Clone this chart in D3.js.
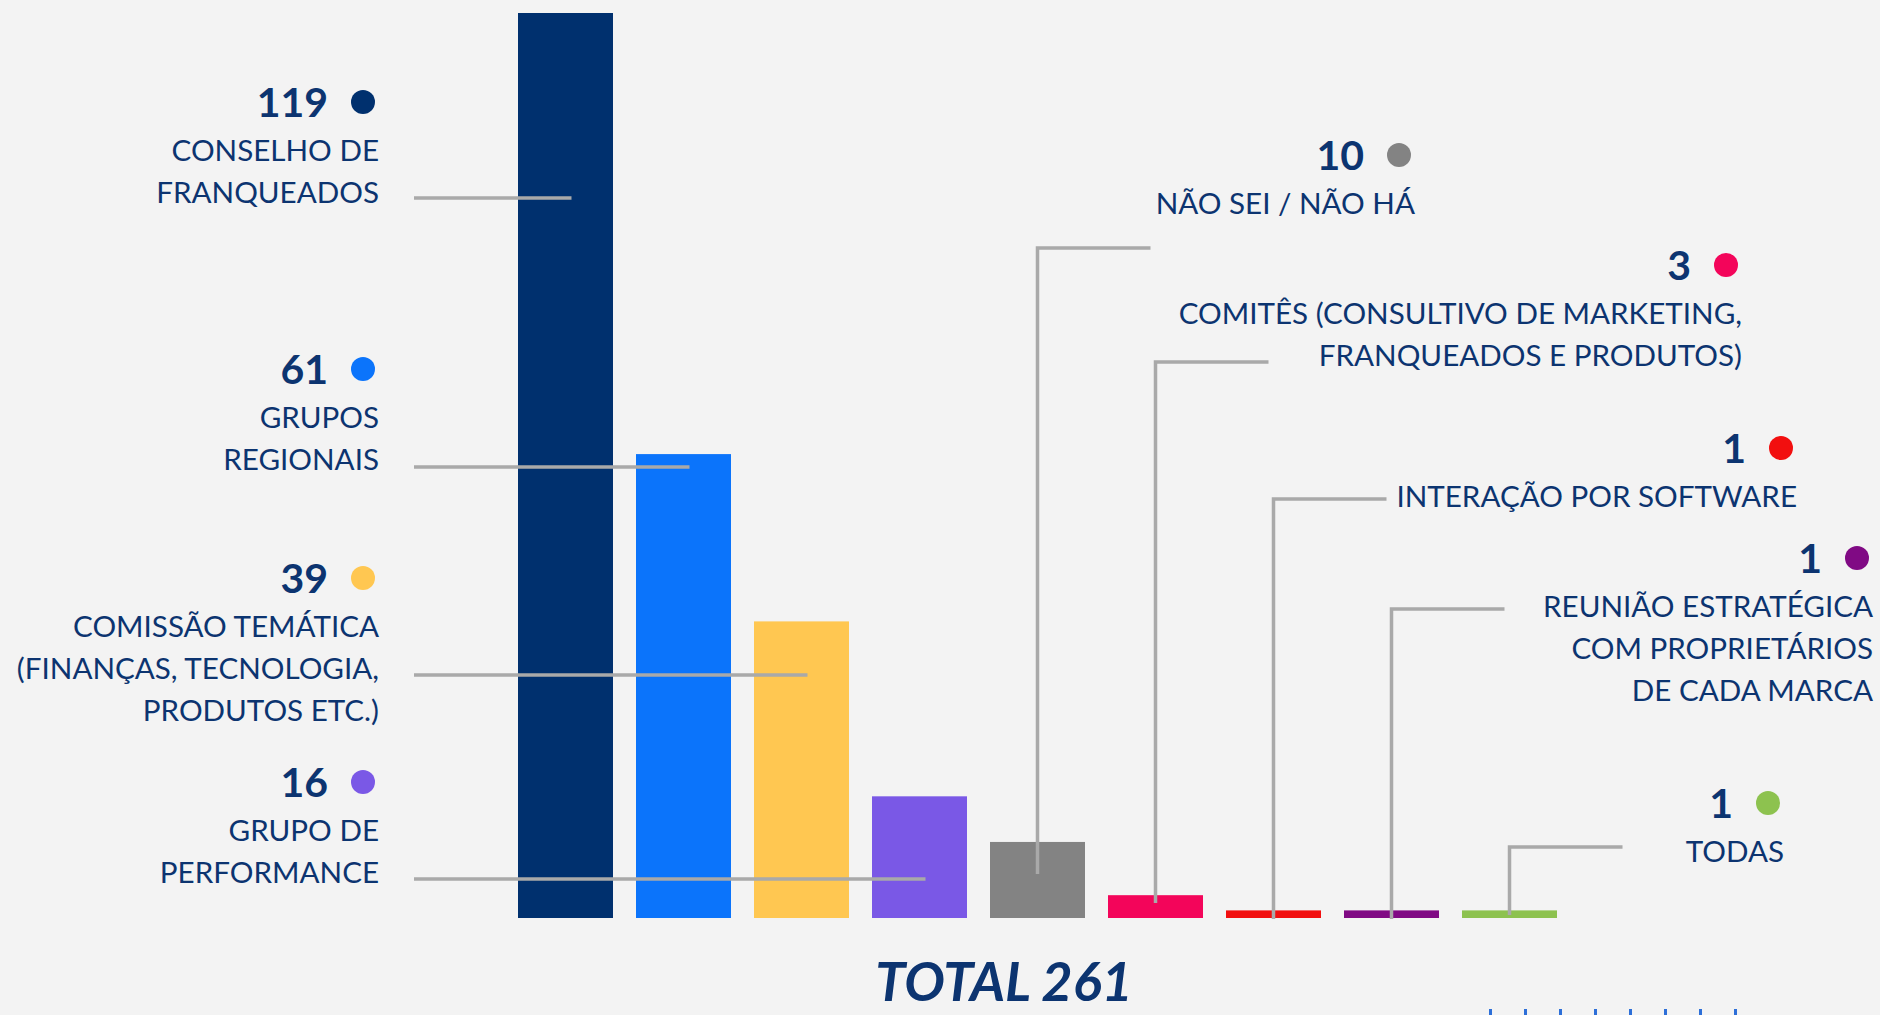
<!DOCTYPE html>
<html>
<head>
<meta charset="utf-8">
<script src="https://d3js.org/d3.v7.min.js"></script>
<style>
  html, body { margin: 0; padding: 0; background: #f3f3f3; }
  svg { display: block; }
  text { font-family: Lato, "Open Sans", sans-serif; fill: #0c3470; }
</style>
</head>
<body>
<svg class="chart" width="1880" height="1015"></svg>
<script>
// data
const categories = ['conselho', 'grupos', 'comissao', 'performance', 'naosei', 'comites', 'software', 'reuniao', 'todas'];
const values = [119, 61, 39, 16, 10, 3, 1, 1, 1];
const labelLines = [
  ['CONSELHO DE', 'FRANQUEADOS'],
  ['GRUPOS', 'REGIONAIS'],
  ['COMISSÃO TEMÁTICA', '(FINANÇAS, TECNOLOGIA,', 'PRODUTOS ETC.)'],
  ['GRUPO DE', 'PERFORMANCE'],
  ['NÃO SEI / NÃO HÁ'],
  ['COMITÊS (CONSULTIVO DE MARKETING,', 'FRANQUEADOS E PRODUTOS)'],
  ['INTERAÇÃO POR SOFTWARE'],
  ['REUNIÃO ESTRATÉGICA', 'COM PROPRIETÁRIOS', 'DE CADA MARCA'],
  ['TODAS']
];
const colors = ['#00306e', '#0b74fb', '#ffc751', '#7a58e6', '#838383', '#f3055a', '#f20f0f', '#800a84', '#8dc24f'];
const totalText = 'TOTAL 261';

// layout of the annotation blocks (right edge of text, baseline of the number)
const labelPos = [
  {x: 379, y: 117, side: 'left', leaderY: 198},
  {x: 379, y: 384, side: 'left', leaderY: 467},
  {x: 379, y: 593, side: 'left', leaderY: 675},
  {x: 379, y: 797, side: 'left', leaderY: 879},
  {x: 1415, y: 170, side: 'right', leaderY: 248, leaderBottom: 874},
  {x: 1742, y: 280, side: 'right', leaderY: 362, leaderBottom: 903},
  {x: 1797, y: 463, side: 'right', leaderY: 499, leaderBottom: 919},
  {x: 1873, y: 573, side: 'right', leaderY: 609, leaderBottom: 919},
  {x: 1784, y: 818, side: 'right', leaderY: 847, leaderBottom: 915}
];

const svg = d3.select('.chart');
const baseY = 918, topY = 13;

let xs = d3.scaleBand().domain(categories).range([518, 1557]).paddingInner(0.195).paddingOuter(0);
let ys = d3.scaleLinear().domain([0, d3.max(values)]).range([baseY, topY]);

// bars
svg.append('g')
  .selectAll('rect')
  .data(values)
  .join('rect')
  .attr('x', (d, i) => xs(categories[i]))
  .attr('y', d => ys(d))
  .attr('width', xs.bandwidth())
  .attr('height', d => baseY - ys(d))
  .attr('fill', (d, i) => colors[i]);

// leader lines
const leaders = svg.append('g')
  .attr('stroke', '#a9a9a9')
  .attr('stroke-width', 3.5)
  .attr('fill', 'none');

labelPos.forEach((p, i) => {
  let cx = xs(categories[i]) + xs.bandwidth() / 2;
  if (p.side == 'left') {
    leaders.append('line')
      .attr('x1', 414).attr('x2', cx + 6)
      .attr('y1', p.leaderY).attr('y2', p.leaderY);
  } else {
    leaders.append('path')
      .attr('d', 'M' + cx + ',' + p.leaderBottom + 'V' + p.leaderY + 'H' + (cx + 113));
  }
});

// labels: value, colour dot, text lines
const labels = svg.append('g').selectAll('g')
  .data(labelPos)
  .join('g');

labels.append('text')
  .attr('x', d => d.x - 51)
  .attr('y', d => d.y)
  .attr('text-anchor', 'end')
  .style('font-size', '41px')
  .style('font-weight', 700)
  .text((d, i) => values[i]);

labels.append('circle')
  .attr('cx', d => d.x - 16)
  .attr('cy', d => d.y - 15)
  .attr('r', 12)
  .attr('fill', (d, i) => colors[i]);

labels.each(function(d, i) {
  d3.select(this).selectAll('text.line')
    .data(labelLines[i])
    .join('text')
    .attr('class', 'line')
    .attr('x', d.x)
    .attr('y', (t, j) => d.y + 44 + 42 * j)
    .attr('text-anchor', 'end')
    .style('font-size', '29.6px')
    .text(t => t);
});

// total (kept just inside the bottom edge)
svg.append('text')
  .attr('x', 1004)
  .attr('y', 1001)
  .attr('text-anchor', 'middle')
  .style('font-size', '54px')
  .style('font-weight', 700)
  .style('font-style', 'italic')
  .text(totalText);

// small blue marks cut off at the bottom edge
svg.append('g')
  .selectAll('rect')
  .data(d3.range(8))
  .join('rect')
  .attr('x', d => 1489 + d * 35)
  .attr('y', 1009)
  .attr('width', 3)
  .attr('height', 6)
  .attr('fill', '#2d6fd8');
</script>
</body>
</html>
